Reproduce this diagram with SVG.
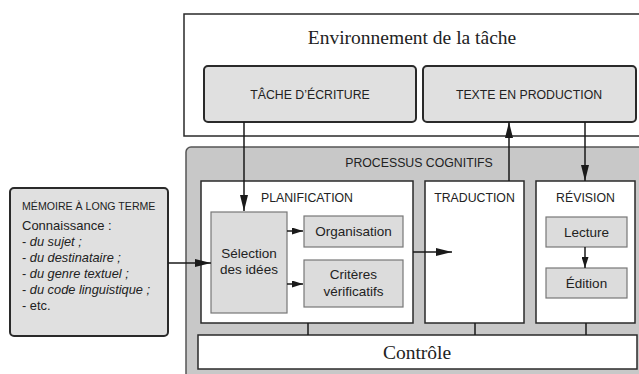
<svg xmlns="http://www.w3.org/2000/svg" width="639" height="374" viewBox="0 0 639 374">
<defs>
<marker id="ah" viewBox="0 0 16 8" refX="16" refY="4" markerWidth="16" markerHeight="8" markerUnits="userSpaceOnUse" orient="auto">
<path d="M0,0 L16,4 L0,8 z" fill="#1a1a1a"/>
</marker>
<marker id="ahs" viewBox="0 0 11 7" refX="11" refY="3.5" markerWidth="11" markerHeight="7" markerUnits="userSpaceOnUse" orient="auto">
<path d="M0,0 L11,3.5 L0,7 z" fill="#1a1a1a"/>
</marker>
</defs>
<style>
.sans{font-family:"Liberation Sans","Open Sans",Arial,sans-serif;fill:#222}
.serif{font-family:"Liberation Serif","Times New Roman",serif;fill:#222}
.hdr{font-size:12.3px}
.node{font-size:13.5px}
.dark{fill:#e0e0e0;stroke:#2a2a2a;stroke-width:2}
.white{fill:#fff;stroke:#2a2a2a;stroke-width:1.5}
.sub{fill:#dcdcdc;stroke:#777;stroke-width:1.2}
.con{stroke:#1a1a1a;stroke-width:1.5;fill:none}
</style>
<rect width="639" height="374" fill="#fff"/>

<g id="environnement">
<rect x="184" y="14" width="460" height="122" fill="#fff" stroke="#2a2a2a" stroke-width="1.5"/>
<text class="serif" x="412" y="44" font-size="19.5" text-anchor="middle">Environnement de la tâche</text>
</g>
<g id="tache">
<rect class="dark" x="204" y="66" width="212" height="56" rx="4"/>
<text class="sans hdr" x="310" y="99" text-anchor="middle">TÂCHE D’ÉCRITURE</text>
</g>
<g id="texte">
<rect class="dark" x="423" y="66" width="213" height="56" rx="4"/>
<text class="sans hdr" x="529" y="99" text-anchor="middle">TEXTE EN PRODUCTION</text>
</g>

<g id="processus">
<rect x="186" y="147" width="470" height="240" rx="5" fill="#c8c8c8" stroke="#555" stroke-width="1.5"/>
<text class="sans hdr" x="419" y="167" text-anchor="middle">PROCESSUS COGNITIFS</text>
</g>

<g id="memoire">
<rect class="dark" x="10" y="188" width="158" height="148" rx="4"/>
<text class="sans" x="22" y="210" font-size="10.6">MÉMOIRE À LONG TERME</text>
<text class="sans" x="22" y="230" font-size="13">Connaissance :</text>
<text class="sans" x="22" y="246" font-size="12.8">- <tspan font-style="italic">du sujet ;</tspan></text>
<text class="sans" x="22" y="262" font-size="12.8">- <tspan font-style="italic">du destinataire ;</tspan></text>
<text class="sans" x="22" y="278" font-size="12.8">- <tspan font-style="italic">du genre textuel ;</tspan></text>
<text class="sans" x="22" y="294" font-size="12.8">- <tspan font-style="italic">du code linguistique ;</tspan></text>
<text class="sans" x="22" y="310" font-size="12.8">- etc.</text>
</g>

<g id="planification">
<rect class="white" x="201" y="181" width="212" height="142"/>
<text class="sans hdr" x="307" y="202" text-anchor="middle">PLANIFICATION</text>
</g>
<g id="selection">
<rect class="sub" x="211" y="212" width="76" height="101"/>
<text class="sans node" x="249" y="258" text-anchor="middle">Sélection</text>
<text class="sans node" x="249" y="274" text-anchor="middle">des idées</text>
</g>
<g id="organisation">
<rect class="sub" x="304" y="216" width="99" height="31"/>
<text class="sans node" x="353.5" y="236" text-anchor="middle">Organisation</text>
</g>
<g id="criteres">
<rect class="sub" x="304" y="260" width="99" height="47"/>
<text class="sans node" x="353.5" y="279" text-anchor="middle">Critères</text>
<text class="sans node" x="353.5" y="296" text-anchor="middle">vérificatifs</text>
</g>

<g id="traduction">
<rect class="white" x="425" y="181" width="99" height="142"/>
<text class="sans hdr" x="474.5" y="202" text-anchor="middle">TRADUCTION</text>
</g>

<g id="revision">
<rect class="white" x="536" y="181" width="99" height="142"/>
<text class="sans hdr" x="585.5" y="202" text-anchor="middle">RÉVISION</text>
</g>
<g id="lecture">
<rect class="sub" x="546" y="217" width="81" height="30"/>
<text class="sans node" x="586.5" y="237" text-anchor="middle">Lecture</text>
</g>
<g id="edition">
<rect class="sub" x="546" y="268" width="81" height="30"/>
<text class="sans node" x="586.5" y="288" text-anchor="middle">Édition</text>
</g>

<g id="controle">
<rect class="white" x="198" y="335" width="439" height="34"/>
<text class="serif" x="417" y="359" font-size="19.5" text-anchor="middle">Contrôle</text>
</g>

<g id="connecteurs">
<line class="con" x1="244" y1="122" x2="244" y2="211" marker-end="url(#ah)"/>
<line class="con" x1="509" y1="181" x2="509" y2="122" marker-end="url(#ah)"/>
<line class="con" x1="585" y1="122" x2="585" y2="181" marker-end="url(#ah)"/>
<line class="con" x1="168" y1="263" x2="211" y2="263" marker-end="url(#ah)"/>
<line class="con" x1="287" y1="231" x2="303" y2="231" marker-end="url(#ahs)"/>
<line class="con" x1="287" y1="284" x2="303" y2="284" marker-end="url(#ahs)"/>
<line class="con" x1="413" y1="252" x2="452" y2="252" marker-end="url(#ah)"/>
<line class="con" x1="585" y1="247" x2="585" y2="268" marker-end="url(#ahs)"/>
<line class="con" x1="308" y1="323" x2="308" y2="335"/>
<line class="con" x1="475" y1="323" x2="475" y2="335"/>
<line class="con" x1="586" y1="323" x2="586" y2="335"/>
</g>
</svg>
